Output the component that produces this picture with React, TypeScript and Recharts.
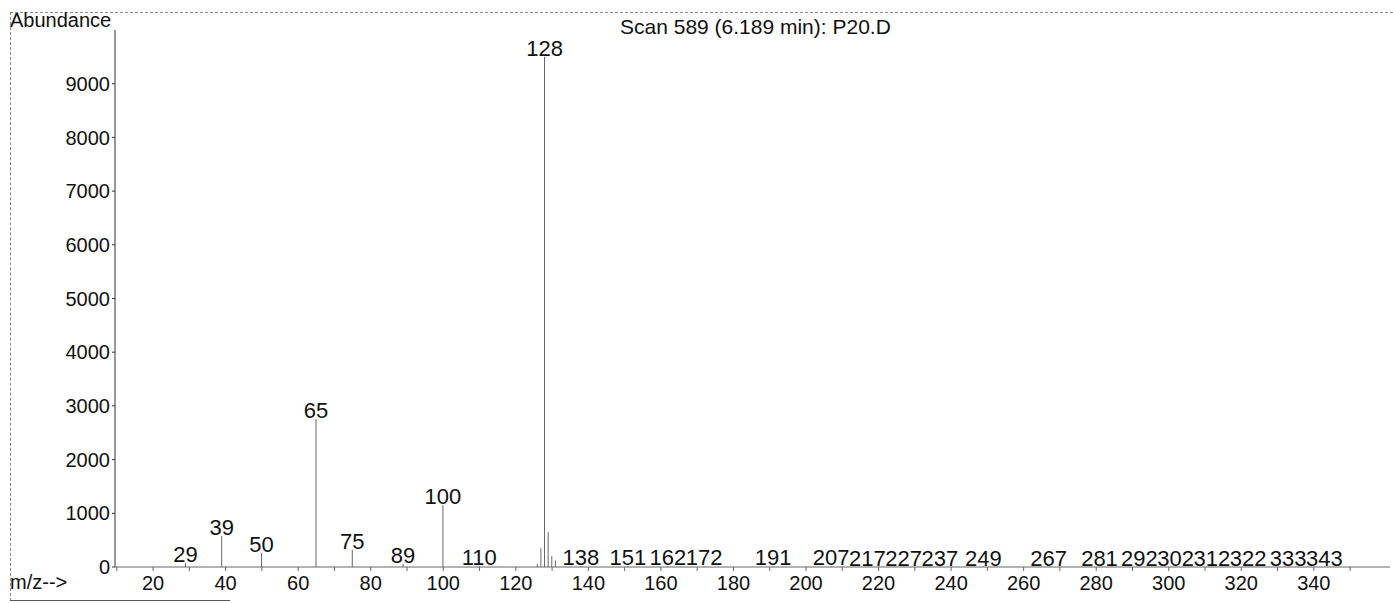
import React from 'react';
import { BarChart, Bar, XAxis, YAxis, LabelList } from 'recharts';

const FONT = '"Liberation Sans", Arial, sans-serif';

const mzValues = [29, 39, 50, 65, 75, 89, 100, 110, 126, 127, 128, 129, 130, 131, 138, 151, 162, 172, 191, 207, 217, 227, 237, 249, 267, 281, 292, 302, 312, 322, 333, 343];
const abundanceValues = [75, 580, 260, 2750, 320, 60, 1150, 15, 60, 350, 9500, 650, 200, 120, 20, 15, 10, 10, 10, 15, 8, 8, 8, 8, 6, 8, 5, 5, 5, 5, 5, 5];
const labeledMz = [29, 39, 50, 65, 75, 89, 100, 110, 128, 138, 151, 162, 172, 191, 207, 217, 227, 237, 249, 267, 281, 292, 302, 312, 322, 333, 343];
const xTicks = [10, 20, 30, 40, 50, 60, 70, 80, 90, 100, 110, 120, 130, 140, 150, 160, 170, 180, 190, 200, 210, 220, 230, 240, 250, 260, 270, 280, 290, 300, 310, 320, 330, 340, 350];
const yTicks = [0, 1000, 2000, 3000, 4000, 5000, 6000, 7000, 8000, 9000];
const titleText = 'Scan 589 (6.189 min): P20.D';
const yTitle = 'Abundance';
const xTitle = 'm/z-->';

const data = mzValues.map((mz, i) => ({ mz, abundance: abundanceValues[i] }));

const PeakShape = (props: any) => {
  const { x, y, width, height } = props;
  const cx = x + width / 2;
  return <line x1={cx} x2={cx} y1={y} y2={y + height} stroke="#666" strokeWidth={1} />;
};

const PeakLabel = (props: any) => {
  const { value } = props;
  if (!labeledMz.includes(value)) return null;
  const vb = props.viewBox || {};
  const x = props.x ?? vb.x;
  const y = props.y ?? vb.y;
  const width = props.width ?? vb.width ?? 0;
  return (
    <text x={x + width / 2} y={y - 1} textAnchor="middle" fontSize={22} fontFamily={FONT} fill="#111">
      {value}
    </text>
  );
};

export default function App() {
  return (
    <div style={{ position: 'absolute', left: 0, top: 0, width: 1393, height: 603, background: '#fff', fontFamily: FONT }}>
      <div style={{ position: 'absolute', left: 10, top: 12, width: 1383, height: 589, borderTop: '1px dashed #888', borderLeft: '1px dashed #888', boxSizing: 'border-box' }} />
      <div style={{ position: 'absolute', left: 10, top: 600, width: 220, height: 0, borderTop: '1px solid #555' }} />
      <BarChart width={1393} height={603} data={data} margin={{ top: 30, right: 3, bottom: 0, left: 0 }}>
        <XAxis
          type="number"
          dataKey="mz"
          domain={[9.5, 361]}
          ticks={xTicks}
          interval={0}
          allowDataOverflow
          tickFormatter={(v: number) => (v % 20 === 0 ? String(v) : '')}
          height={36}
          tickSize={4}
          tickMargin={5}
          axisLine={{ stroke: '#666' }}
          tickLine={{ stroke: '#666' }}
          tick={{ fill: '#111', fontSize: 20, fontFamily: FONT }}
        />
        <YAxis
          type="number"
          domain={[0, 10000]}
          ticks={yTicks}
          interval={0}
          allowDataOverflow
          width={115}
          tickSize={3}
          tickMargin={2}
          axisLine={{ stroke: '#333' }}
          tickLine={{ stroke: '#333' }}
          tick={{ fill: '#111', fontSize: 20, fontFamily: FONT }}
        />
        <Bar dataKey="abundance" barSize={1} isAnimationActive={false} shape={PeakShape}>
          <LabelList dataKey="mz" content={PeakLabel} />
        </Bar>
      </BarChart>
      <div style={{ position: 'absolute', left: 10, top: 10, fontSize: 20, lineHeight: 1, color: '#111', whiteSpace: 'nowrap' }}>{yTitle}</div>
      <div style={{ position: 'absolute', left: 620, top: 16, fontSize: 21, lineHeight: 1, color: '#111', whiteSpace: 'nowrap' }}>{titleText}</div>
      <div style={{ position: 'absolute', left: 10, top: 572, fontSize: 20, lineHeight: 1, color: '#111', whiteSpace: 'nowrap' }}>{xTitle}</div>
    </div>
  );
}
